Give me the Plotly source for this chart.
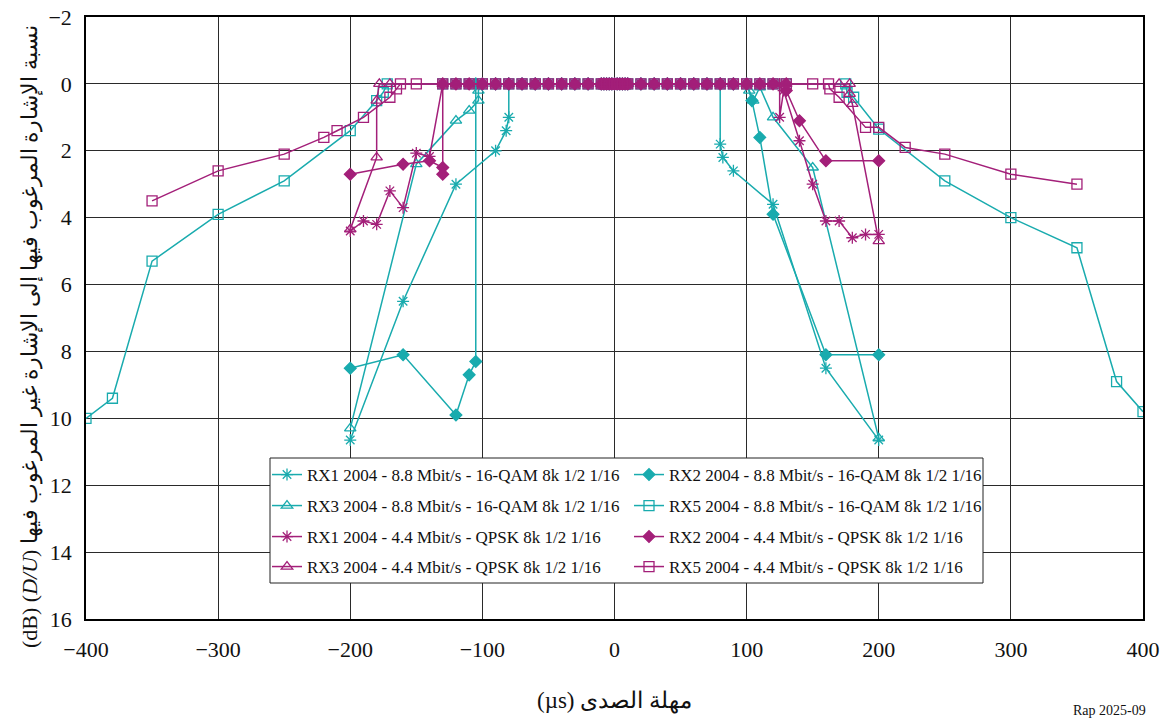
import plotly.graph_objects as go

TEAL = "#19ABAE"
MAG = "#A31F79"
FONT = "Liberation Serif, Times New Roman, serif"

# shared zero plateau (echo delays where D/U = 0 dB)
PLATEAU_X = [-130, -120, -110, -100, -90, -80, -70, -60, -50, -40, -30, -20, -10, -8, -6, -4, -2,
             0, 2, 4, 6, 8, 10, 20, 30, 40, 50, 60, 70, 80, 90, 100, 110, 120, 130]
PLATEAU_Y = [0, 0, 0, 0, 0, 0, 0, 0, 0, 0, 0, 0, 0, 0, 0, 0, 0,
             0, 0, 0, 0, 0, 0, 0, 0, 0, 0, 0, 0, 0, 0, 0, 0, 0, 0]

names = [
    "RX1 2004 - 8.8 Mbit/s - 16-QAM 8k 1/2 1/16",
    "RX2 2004 - 8.8 Mbit/s - 16-QAM 8k 1/2 1/16",
    "RX3 2004 - 8.8 Mbit/s - 16-QAM 8k 1/2 1/16",
    "RX5 2004 - 8.8 Mbit/s - 16-QAM 8k 1/2 1/16",
    "RX1 2004 - 4.4 Mbit/s - QPSK 8k 1/2 1/16",
    "RX2 2004 - 4.4 Mbit/s - QPSK 8k 1/2 1/16",
    "RX3 2004 - 4.4 Mbit/s - QPSK 8k 1/2 1/16",
    "RX5 2004 - 4.4 Mbit/s - QPSK 8k 1/2 1/16",
]

# left tails, plateau limits, right tails
rx1_88_lx = [-200, -160, -120, -90, -82, -80]
rx1_88_ly = [10.65, 6.5, 3.0, 2.0, 1.4, 1.0]
rx1_88_lim = (-80, 80)
rx1_88_rx = [80, 82, 90, 120, 160, 200]
rx1_88_ry = [1.8, 2.2, 2.6, 3.6, 8.5, 10.65]

rx2_88_lx = [-200, -160, -120, -110, -105, -105]
rx2_88_ly = [8.5, 8.1, 9.9, 8.7, 8.3, 0]
rx2_88_lim = (-100, 100)
rx2_88_rx = [104, 110, 120, 160, 200]
rx2_88_ry = [0.5, 1.6, 3.9, 8.1, 8.1]

rx3_88_lx = [-200, -150, -120, -110, -103, -103]
rx3_88_ly = [10.3, 2.4, 1.1, 0.8, 0.5, 0.2]
rx3_88_lim = (-100, 100)
rx3_88_rx = [102, 105, 110, 120, 150, 200]
rx3_88_ry = [0.2, 0.5, 0.1, 1.0, 2.5, 10.6]

rx5_88_lx = [-400, -380, -350, -300, -250, -200, -180, -175, -172]
rx5_88_ly = [10.0, 9.4, 5.3, 3.9, 2.9, 1.4, 0.5, 0.25, 0]
rx5_88_lim = (-130, 130)
rx5_88_rx = [175, 176, 181, 200, 250, 300, 350, 380, 400]
rx5_88_ry = [0, 0.25, 0.4, 1.35, 2.9, 4.0, 4.9, 8.9, 9.8]

rx1_44_lx = [-200, -190, -180, -170, -160, -150, -140]
rx1_44_ly = [4.4, 4.1, 4.2, 3.2, 3.7, 2.07, 2.17]
rx1_44_lim = (-130, 120)
rx1_44_rx = [125, 125, 128, 140, 150, 160, 170, 180, 190, 200]
rx1_44_ry = [0, 1.0, 0.2, 1.7, 3.0, 4.1, 4.1, 4.6, 4.5, 4.5]

rx2_44_lx = [-200, -160, -140, -130, -130]
rx2_44_ly = [2.7, 2.4, 2.3, 2.5, 2.7]
rx2_44_lim = (-130, 130)
rx2_44_rx = [130, 140, 160, 200]
rx2_44_ry = [0.2, 1.1, 2.3, 2.3]

rx3_44_lx = [-200, -180, -180, -178, -170]
rx3_44_ly = [4.35, 2.2, 0.5, 0, 0]
rx3_44_lim = (-130, 130)
rx3_44_rx = [170, 178, 178, 180, 200]
rx3_44_ry = [0, 0, 0.3, 0.6, 4.7]

rx5_44_lx = [-350, -300, -250, -220, -210, -190, -170, -165, -162, -150]
rx5_44_ly = [3.5, 2.6, 2.1, 1.6, 1.4, 1.0, 0.4, 0.15, 0, 0]
rx5_44_lim = (-130, 130)
rx5_44_rx = [150, 162, 163, 170, 190, 200, 220, 250, 300, 350]
rx5_44_ry = [0, 0, 0.15, 0.4, 1.3, 1.3, 1.9, 2.1, 2.7, 3.0]

series = [
    (rx1_88_lx, rx1_88_ly, rx1_88_lim, rx1_88_rx, rx1_88_ry, TEAL, "asterisk-open"),
    (rx2_88_lx, rx2_88_ly, rx2_88_lim, rx2_88_rx, rx2_88_ry, TEAL, "diamond"),
    (rx3_88_lx, rx3_88_ly, rx3_88_lim, rx3_88_rx, rx3_88_ry, TEAL, "triangle-up-open"),
    (rx5_88_lx, rx5_88_ly, rx5_88_lim, rx5_88_rx, rx5_88_ry, TEAL, "square-open"),
    (rx1_44_lx, rx1_44_ly, rx1_44_lim, rx1_44_rx, rx1_44_ry, MAG, "asterisk-open"),
    (rx2_44_lx, rx2_44_ly, rx2_44_lim, rx2_44_rx, rx2_44_ry, MAG, "diamond"),
    (rx3_44_lx, rx3_44_ly, rx3_44_lim, rx3_44_rx, rx3_44_ry, MAG, "triangle-up-open"),
    (rx5_44_lx, rx5_44_ly, rx5_44_lim, rx5_44_rx, rx5_44_ry, MAG, "square-open"),
]

legend_ids = ["legend", "legend", "legend2", "legend2", "legend3", "legend3", "legend4", "legend4"]

fig = go.Figure()
for i, (lx, ly, lim, rx, ry, col, sym) in enumerate(series):
    px = [x for x in PLATEAU_X if lim[0] <= x <= lim[1]]
    py = [y for x, y in zip(PLATEAU_X, PLATEAU_Y) if lim[0] <= x <= lim[1]]
    xs = lx + px + rx
    ys = ly + py + ry
    size = 9 if sym == "diamond" else 10
    fig.add_trace(go.Scatter(
        x=xs, y=ys, mode="lines+markers", name=names[i],
        line=dict(color=col, width=1.5),
        marker=dict(symbol=sym, size=size, color=col, line=dict(color=col, width=1.3)),
        legend=legend_ids[i],
    ))

axis_common = dict(
    showgrid=True, gridcolor="#2a2a2a", gridwidth=1,
    showline=True, mirror=True, linecolor="#000", linewidth=1.5,
    zeroline=False, ticks="", automargin=False,
    tickfont=dict(family=FONT, size=22, color="#111"),
)

def leg(yc):
    return dict(
        orientation="h", x=(267 - 86) / 1057, xanchor="left",
        y=(619 - yc) / 602, yanchor="middle",
        entrywidth=317, entrywidthmode="pixels",
        bgcolor="rgba(0,0,0,0)", borderwidth=0,
        font=dict(family=FONT, size=17, color="#111"),
        itemwidth=30,
    )

fig.update_layout(
    width=1169, height=720,
    margin=dict(l=86, r=26, t=17, b=101, autoexpand=False),
    paper_bgcolor="white", plot_bgcolor="white",
    xaxis=dict(range=[-400, 400], dtick=100, tick0=0, ticklabelstandoff=10, **axis_common),
    yaxis=dict(range=[16, -2], dtick=2, tick0=0, ticklabelstandoff=8, **axis_common),
    legend=leg(475), legend2=leg(506), legend3=leg(537), legend4=leg(567),
    shapes=[dict(type="rect", xref="paper", yref="paper",
                 x0=(270 - 86) / 1057, x1=(983 - 86) / 1057,
                 y0=(619 - 583) / 602, y1=(619 - 458) / 602,
                 line=dict(color="#222", width=1), fillcolor="white", layer="above")],
    annotations=[
        dict(text="(µs) مهلة الصدى", xref="paper", yref="paper", x=0.5, y=(619 - 701) / 602,
             xanchor="center", yanchor="middle", showarrow=False,
             font=dict(family=FONT, size=23, color="#111")),
        dict(text="(dB) (<i>D/U</i>) نسبة الإشارة المرغوب فيها إلى الإشارة غير المرغوب فيها",
             xref="paper", yref="paper", x=(30 - 86) / 1057, y=(619 - 337) / 602,
             xanchor="center", yanchor="middle", textangle=-90, showarrow=False,
             font=dict(family=FONT, size=22, color="#111")),
        dict(text="Rap 2025-09", xref="paper", yref="paper", x=(1148 - 86) / 1057, y=(619 - 701) / 602,
             xanchor="right", yanchor="top", showarrow=False,
             font=dict(family=FONT, size=14, color="#111")),
    ],
)

fig.write_html("out.html")
